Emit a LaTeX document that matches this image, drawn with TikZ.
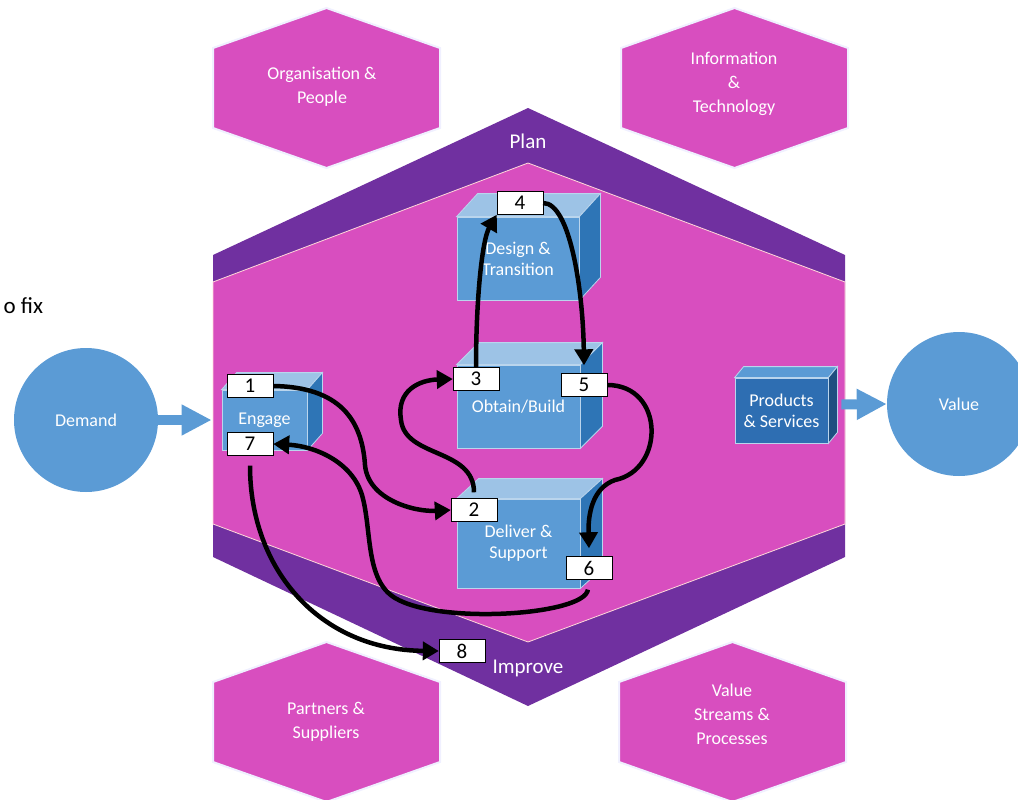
\documentclass[tikz,border=0pt]{standalone}
\usepackage{fontspec}
\setmainfont{Carlito}
\usetikzlibrary{arrows.meta}

\definecolor{hexpink}{RGB}{216,78,191}
\definecolor{bandpurple}{RGB}{112,48,160}
\definecolor{boxblue}{RGB}{91,155,213}
\definecolor{boxtop}{RGB}{157,195,230}
\definecolor{boxside}{RGB}{46,117,182}
\definecolor{prodblue}{RGB}{46,110,178}
\definecolor{prodside}{RGB}{30,78,128}

\tikzset{
  hexa/.style={fill=hexpink, draw=blue!6, line width=2pt},
  hexlabel/.style={text=white, align=center, font=\fontsize{18}{24}\selectfont},
  bandlabel/.style={text=white, font=\fontsize{21}{21}\selectfont},
  cube/.style={fill=boxblue, draw=boxtop!70!white, line width=0.8pt, text=white, align=center, inner sep=0pt, font=\fontsize{18}{21}\selectfont},
  cubetop/.style={fill=boxtop, draw=boxtop!70!white, line width=0.8pt},
  cubeside/.style={fill=boxside, draw=boxtop!70!white, line width=0.8pt},
  ball/.style={circle, fill=boxblue, text=white, minimum size=144pt, font=\fontsize{18}{18}\selectfont},
  numbox/.style={draw=black, fill=white, minimum width=46pt, minimum height=23pt, inner sep=0pt, font=\fontsize{21}{21}\selectfont},
  bigarrow/.style={draw=boxblue, line width=10pt, -{Triangle[length=30pt,width=29pt]}},
  flow/.style={line width=4.5pt, -{Triangle[length=16pt,width=18pt]}},
}

\newcommand\cubefaces[3]{%
  \path[cubetop] (#1.north west) -- ([shift={(#2,-#3)}]#1.north west) -- ([shift={(#2,-#3)}]#1.north east) -- (#1.north east) -- cycle;
  \path[cubeside] (#1.north east) -- ([shift={(#2,-#3)}]#1.north east) -- ([shift={(#2,-#3)}]#1.south east) -- (#1.south east) -- cycle;}

\newcommand\hexat[2]{%
  \path[hexa] (#1,#2) ++(-113.5,-40) -- ++(113.5,-40) -- ++(113.5,40) -- ++(0,80) -- ++(-113.5,40) -- ++(-113.5,-40) -- cycle;}

\begin{document}
\begin{tikzpicture}[x=1pt, y=-1pt]
    \useasboundingbox (0,0) rectangle (1018,800);

    \fill[bandpurple] (528,108) -- (845,255) -- (845,557) -- (528,706) -- (213,557) -- (213,255) -- cycle;
    \filldraw[fill=hexpink, draw=pink!60!white, line width=0.8pt] (528,163) -- (845,282) -- (845,524) -- (528,642) -- (213,524) -- (213,282) -- cycle;
    \node[bandlabel](plan) at (528,141){Plan};
    \node[bandlabel](improve) at (528,668){Improve};

    \hexat{326.5}{88}
    \hexat{734.5}{88}
    \hexat{326.5}{722}
    \hexat{732.5}{722}
    \node[hexlabel](org) at (322,87){Organisation \&\\People};
    \node[hexlabel](info) at (734,84){Information\\\&\\Technology};
    \node[hexlabel](partners) at (326,722){Partners \&\\Suppliers};
    \node[hexlabel](streams) at (732,714){Value\\Streams \&\\Processes};

    \node[anchor=base west, font=\fontsize{23}{23}\selectfont](fix) at (0,313){o fix};

    \node[ball](demand) at (86,420){Demand};
    \node[ball](value) at (959,404){Value};

    \node[cube, minimum width=85pt, minimum height=60pt](engage) at (264.5,420){Engage};
    \cubefaces{engage}{15}{17}
    \node[cube, minimum width=122pt, minimum height=83pt](design) at (518,258.5){Design \&\\Transition};
    \cubefaces{design}{21}{23}
    \node[cube, minimum width=123pt, minimum height=83pt](obtain) at (518.5,406.5){Obtain/Build};
    \cubefaces{obtain}{22}{22}
    \node[cube, minimum width=123pt, minimum height=89pt](deliver) at (518.5,543.5){Deliver \&\\Support};
    \cubefaces{deliver}{22}{20}
    \begin{scope}[cubetop/.style={fill=boxblue, draw=boxtop!70!white, line width=0.8pt}, cubeside/.style={fill=prodside, draw=boxtop!70!white, line width=0.8pt}]
      \node[cube, fill=prodblue, minimum width=93pt, minimum height=65pt](prod) at (781.5,410.5){Products\\\& Services};
      \cubefaces{prod}{9}{11}
    \end{scope}

    \draw[bigarrow](demand.east)--([xshift=-10pt]engage.west);
    \draw[bigarrow]([xshift=13pt, yshift=6pt]prod.east)--(value.west);

    \node[numbox](n1) at (250,386){1};
    \node[numbox](n2) at (474,510){2};
    \node[numbox](n3) at (476,379){3};
    \node[numbox](n4) at (520,203){4};
    \node[numbox](n5) at (584,385){5};
    \node[numbox](n6) at (589,568){6};
    \node[numbox](n7) at (250,444){7};
    \node[numbox](n8) at (462,651){8};

    \draw[flow](n1.east) .. controls (340,387) and (362,420) .. (365,465) .. controls (368,500) and (415,512) .. (n2.west);
    \draw[flow, shorten <=6pt](n2.north) .. controls (474,448) and (405,458) .. (401,420) .. controls (396,390) and (420,380) .. (n3.west);
    \draw[flow](n3.north) .. controls (476,300) and (482,240) .. (n4.south west);
    \draw[flow](n4.east) .. controls (570,203) and (583,290) .. ([yshift=8pt]n5.north);
    \draw[flow](n5.east) .. controls (665,385) and (665,470) .. (615,480) .. controls (592,488) and (588,515) .. ([yshift=8pt]n6.north);
    \draw[flow, shorten <=10pt](n6.south) .. controls (585,615) and (440,625) .. (395,598) .. controls (365,580) and (372,530) .. (362,495) .. controls (352,462) and (315,446) .. (n7.east);
    \draw[flow, shorten <=10pt](n7.south) .. controls (250,570) and (320,650) .. (n8.west);
  \end{tikzpicture}
\end{document}
